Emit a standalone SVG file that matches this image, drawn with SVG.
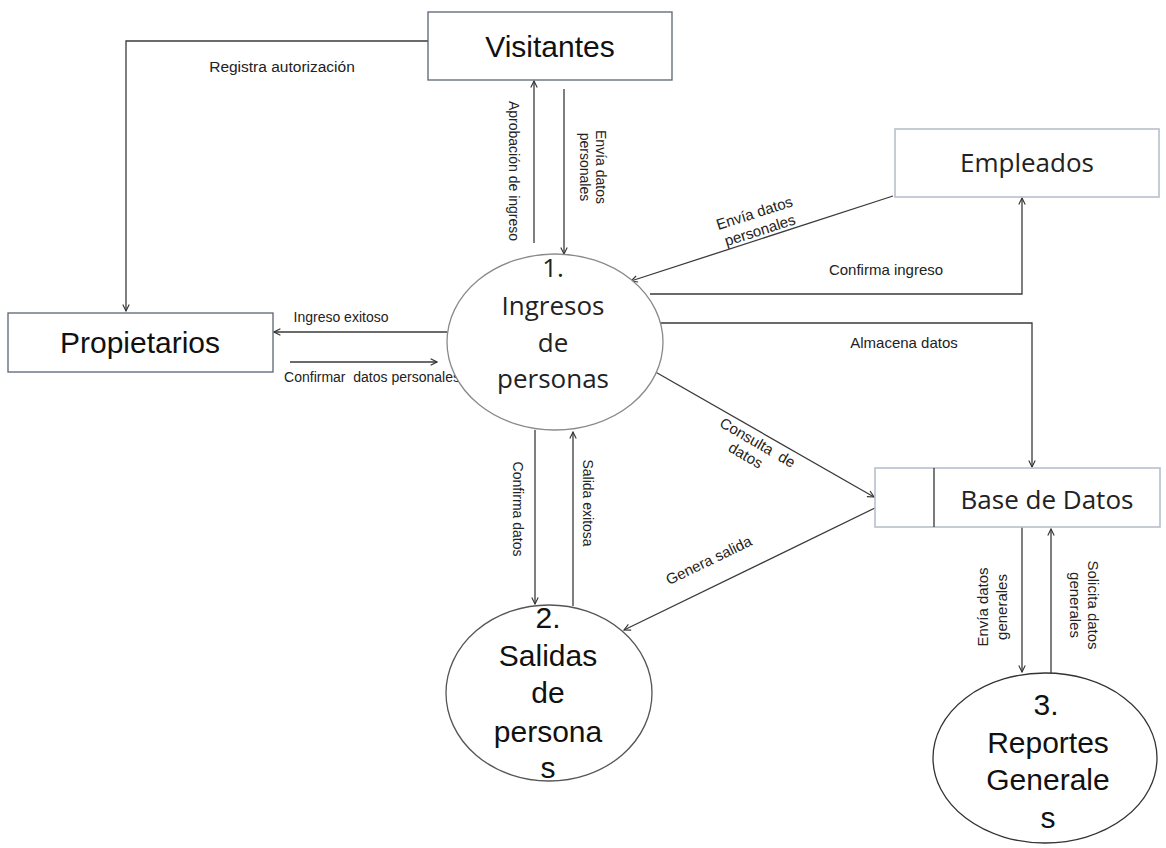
<svg xmlns="http://www.w3.org/2000/svg" width="1166" height="848" viewBox="0 0 1166 848">
<defs>
<marker id="arr" viewBox="0 0 10 10" refX="9" refY="5" markerWidth="8" markerHeight="8" markerUnits="userSpaceOnUse" orient="auto">
<path d="M1,1 L9,5 L1,9" fill="none" stroke="#333" stroke-width="1.4"/>
</marker>
</defs>
<style>
.bg{fill:#fff}
.box{fill:#fff;stroke:#5a6473;stroke-width:1.3}
.boxl{fill:#fff;stroke:#b7c0cc;stroke-width:1.6}
.big{font-family:"Liberation Sans",Arial,sans-serif;font-size:30px;fill:#111;text-anchor:middle}
.cal{font-family:"Open Sans","Liberation Sans",sans-serif;font-size:26px;fill:#222;text-anchor:middle}
.lbl{font-family:"Liberation Sans",Arial,sans-serif;font-size:14px;fill:#222;text-anchor:middle}
.con{fill:none;stroke:#3a3a3a;stroke-width:1.3;marker-end:url(#arr)}
</style>
<rect class="bg" x="0" y="0" width="1166" height="848"/>

<g id="connectors">
<polyline class="con" points="428,41 126,41 126,311"/>
<line class="con" x1="534" y1="243" x2="534" y2="81"/>
<line class="con" x1="564" y1="89" x2="564" y2="254"/>
<line class="con" x1="447" y1="332" x2="274" y2="332"/>
<line class="con" x1="290" y1="362" x2="437" y2="362"/>
<line class="con" x1="893" y1="196" x2="631" y2="281"/>
<polyline class="con" points="650,294 1022,294 1022,198"/>
<polyline class="con" points="660,323 1032,323 1032,467"/>
<line class="con" x1="652" y1="370" x2="874" y2="497"/>
<line class="con" x1="875" y1="508" x2="624" y2="630"/>
<line class="con" x1="535" y1="430" x2="535" y2="604"/>
<line class="con" x1="573" y1="606" x2="573" y2="432"/>
<line class="con" x1="1022" y1="527" x2="1022" y2="672"/>
<line class="con" x1="1051" y1="673" x2="1051" y2="529"/>

<text class="lbl" x="282" y="72" style="font-size:15.5px">Registra autorización</text>
<text class="lbl" transform="translate(509,171) rotate(90)">Aprobación de ingreso</text>
<text class="lbl" transform="translate(596,167) rotate(90)"><tspan x="0" y="0">Envía datos</tspan><tspan x="0" dy="16">personales</tspan></text>
<text class="lbl" x="341" y="322">Ingreso exitoso</text>
<text class="lbl" x="372" y="382" xml:space="preserve">Confirmar  datos personales</text>
<text class="lbl" transform="translate(756,218) rotate(-17.7)" style="font-size:15px"><tspan x="0" y="0">Envía datos</tspan><tspan x="0" dy="18">personales</tspan></text>
<text class="lbl" x="886" y="275" style="font-size:15px">Confirma ingreso</text>
<text class="lbl" x="904" y="348" style="font-size:15px">Almacena datos</text>
<text class="lbl" transform="translate(755,447) rotate(30)" xml:space="preserve" style="font-size:15px"><tspan x="0" y="0">Consulta  de</tspan><tspan x="-4" dy="17">datos</tspan></text>
<text class="lbl" transform="translate(711,565) rotate(-25.8)" style="font-size:15px">Genera salida</text>
<text class="lbl" transform="translate(513,509) rotate(90)">Confirma datos</text>
<text class="lbl" transform="translate(583,503) rotate(90)">Salida exitosa</text>
<text class="lbl" transform="translate(988,607) rotate(-90)" style="font-size:15px"><tspan x="0" y="0">Envía datos</tspan><tspan x="0" dy="19">generales</tspan></text>
<text class="lbl" transform="translate(1088,605) rotate(90)" style="font-size:15px"><tspan x="0" y="0">Solicita datos</tspan><tspan x="0" dy="18">generales</tspan></text>
</g>

<g id="visitantes">
<rect class="box" x="428" y="12" width="244" height="68"/>
<text class="big" x="550" y="57">Visitantes</text>
</g>

<g id="propietarios">
<rect class="box" x="8" y="313" width="265" height="59"/>
<text class="big" x="140" y="353">Propietarios</text>
</g>

<g id="empleados">
<rect class="boxl" x="895" y="129" width="264" height="68"/>
<text class="cal" x="1027" y="172">Empleados</text>
</g>

<g id="basedatos">
<rect class="boxl" x="875" y="468" width="285" height="59"/>
<line x1="934" y1="468" x2="934" y2="527" stroke="#333" stroke-width="1.3"/>
<text class="cal" x="1047" y="509">Base de Datos</text>
</g>

<g id="proceso1">
<ellipse cx="555" cy="342" rx="108" ry="88" fill="#fff" stroke="#8a8a8a" stroke-width="1.3"/>
<text class="cal" x="553" y="277">1.</text>
<text class="cal" x="553" y="315">Ingresos</text>
<text class="cal" x="553" y="352">de</text>
<text class="cal" x="553" y="388">personas</text>
</g>

<g id="proceso2">
<ellipse cx="549" cy="693" rx="103" ry="88" fill="none" stroke="#555" stroke-width="1.3"/>
<text class="big" x="548" y="628">2.</text>
<text class="big" x="548" y="666">Salidas</text>
<text class="big" x="548" y="703">de</text>
<text class="big" x="548" y="742">persona</text>
<text class="big" x="548" y="778">s</text>
</g>

<g id="proceso3">
<ellipse cx="1045" cy="758" rx="112" ry="85" fill="none" stroke="#333" stroke-width="1.3"/>
<text class="big" x="1046" y="715">3.</text>
<text class="big" x="1048" y="753">Reportes</text>
<text class="big" x="1048" y="790">Generale</text>
<text class="big" x="1048" y="828">s</text>
</g>
</svg>
